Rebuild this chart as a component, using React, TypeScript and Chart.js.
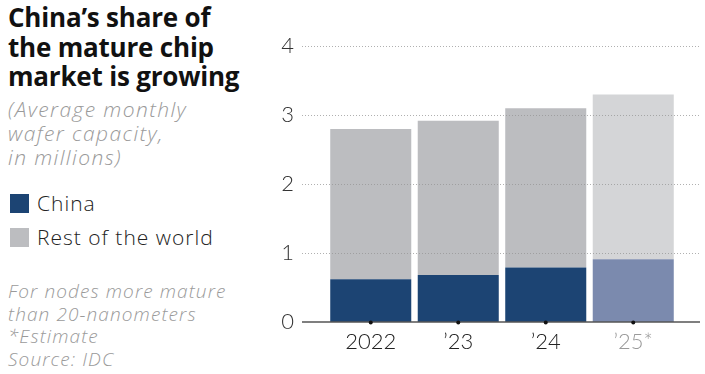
import React, { useEffect, useRef } from "react";
import { Chart, registerables } from "chart.js";

Chart.register(...registerables);

const categories = ["2022", "\u201923", "\u201924", "\u201925*"];
const chinaValues = [0.62, 0.68, 0.79, 0.91];
const restValues = [2.18, 2.24, 2.31, 2.39];
const yTicks = [0, 1, 2, 3, 4];

const chinaColors = ["#1c4473", "#1c4473", "#1c4473", "#7b8aae"];
const restColors = ["#bcbdc0", "#bcbdc0", "#bcbdc0", "#d4d5d7"];
const labelColors = ["#222222", "#222222", "#222222", "#9a9a9a"];

const FONT = "'Open Sans', Lato, sans-serif";
const AXIS_FONT = "Lato, 'Open Sans', sans-serif";

const gridPlugin = {
  id: "customGrid",
  afterDatasetsDraw(chart: any) {
    const ctx = chart.ctx;
    const y = chart.scales.y;
    const x = chart.scales.x;
    const left = 42;
    const right = 440;
    ctx.save();
    ctx.strokeStyle = "rgba(150,150,150,0.75)";
    ctx.lineWidth = 1;
    ctx.setLineDash([1, 2]);
    yTicks.forEach((t) => {
      if (t === 0) return;
      const py = Math.round(y.getPixelForValue(t)) + 0.5;
      ctx.beginPath();
      ctx.moveTo(left, py);
      ctx.lineTo(right, py);
      ctx.stroke();
    });
    ctx.setLineDash([]);
    const by = y.getPixelForValue(0);
    ctx.strokeStyle = "#555555";
    ctx.lineWidth = 1.5;
    ctx.beginPath();
    ctx.moveTo(left, by);
    ctx.lineTo(right, by);
    ctx.stroke();
    ctx.fillStyle = "#111111";
    categories.forEach((_, i) => {
      const px = x.getPixelForValue(i);
      ctx.beginPath();
      ctx.arc(px, by + 0.5, 2, 0, Math.PI * 2);
      ctx.fill();
    });
    ctx.restore();
  },
};

export default function App() {
  const ref = useRef<HTMLCanvasElement>(null);

  useEffect(() => {
    if (!ref.current) return;
    const chart = new Chart(ref.current, {
      type: "bar",
      data: {
        labels: categories,
        datasets: [
          {
            label: "China",
            data: chinaValues,
            backgroundColor: chinaColors,
            borderWidth: 0,
            categoryPercentage: 1,
            barPercentage: 0.926,
          },
          {
            label: "Rest of the world",
            data: restValues,
            backgroundColor: restColors,
            borderWidth: 0,
            categoryPercentage: 1,
            barPercentage: 0.926,
          },
        ],
      },
      options: {
        animation: false,
        responsive: false,
        maintainAspectRatio: false,
        layout: { padding: { left: 7, right: 28, top: 39, bottom: 12 } },
        plugins: {
          legend: { display: false },
          tooltip: { enabled: false },
        },
        scales: {
          x: {
            stacked: true,
            offset: true,
            grid: { display: false, drawTicks: false },
            border: { display: false },
            afterFit: (s: any) => {
              s.height = 40;
            },
            ticks: {
              padding: 7,
              font: { family: AXIS_FONT, size: 22, weight: 300 },
              color: (c: any) => labelColors[c.index] || "#222",
            },
          },
          y: {
            stacked: true,
            min: 0,
            max: 4,
            grid: { display: false, drawTicks: false },
            border: { display: false },
            afterFit: (s: any) => {
              s.width = 60;
            },
            afterBuildTicks: (s: any) => {
              s.ticks = yTicks.map((v) => ({ value: v }));
            },
            ticks: {
              padding: 33,
              font: { family: AXIS_FONT, size: 22, weight: 300 },
              color: "#333333",
            },
          },
        },
      },
      plugins: [gridPlugin],
    });
    return () => chart.destroy();
  }, []);

  const sq = (color: string) => ({
    display: "inline-block",
    width: 19,
    height: 19,
    background: color,
    marginRight: 8,
    verticalAlign: "middle",
    position: "relative" as const,
    top: -2,
  });

  return (
    <div
      style={{
        position: "absolute",
        left: 0,
        top: 0,
        width: 705,
        height: 374,
        background: "#ffffff",
        overflow: "hidden",
        fontFamily: FONT,
      }}
    >
      <canvas
        ref={ref}
        width={445}
        height={374}
        style={{ position: "absolute", left: 260, top: 0, width: 445, height: 374 }}
      />
      <div
        style={{
          position: "absolute",
          left: 8,
          top: 3,
          fontSize: 26,
          fontWeight: 700,
          lineHeight: "29.5px",
          color: "#111111",
          letterSpacing: -0.2,
          whiteSpace: "nowrap",
        }}
      >
        China’s share of
        <br />
        the mature chip
        <br />
        market is growing
      </div>
      <div
        style={{
          position: "absolute",
          left: 8,
          top: 97,
          fontSize: 21,
          fontStyle: "italic",
          fontWeight: 300,
          lineHeight: "24px",
          color: "#9a9a9a",
          letterSpacing: 1.4,
          whiteSpace: "nowrap",
        }}
      >
        (Average monthly
        <br />
        wafer capacity,
        <br />
        in millions)
      </div>
      <div
        style={{
          position: "absolute",
          left: 10,
          top: 186,
          fontSize: 21,
          fontWeight: 300,
          lineHeight: "34px",
          color: "#222222",
          letterSpacing: 1,
          whiteSpace: "nowrap",
        }}
      >
        <div>
          <span style={sq("#1c4473")} />
          China
        </div>
        <div>
          <span style={sq("#bcbdc0")} />
          Rest of the world
        </div>
      </div>
      <div
        style={{
          position: "absolute",
          left: 8,
          top: 280,
          fontSize: 19,
          fontStyle: "italic",
          fontWeight: 300,
          lineHeight: "22.5px",
          color: "#9a9a9a",
          letterSpacing: 1.1,
          whiteSpace: "nowrap",
        }}
      >
        For nodes more mature
        <br />
        than 20-nanometers
        <br />
        *Estimate
        <br />
        Source: IDC
      </div>
    </div>
  );
}
